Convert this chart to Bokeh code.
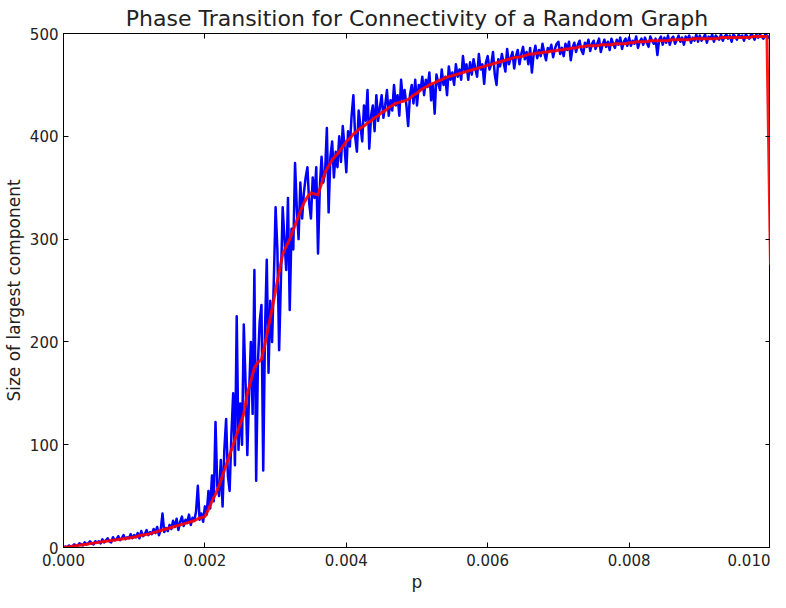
from bokeh.plotting import figure
from bokeh.models import Range1d, FixedTicker, PrintfTickFormatter, LinearAxis, CustomJSTickFormatter, Title
from bokeh.embed import file_html
from bokeh.resources import INLINE

# Blue series: one simulation per p, p on a 0.000025 grid from 0 to 0.010
blue_p = [j * 0.000025 for j in range(401)]
blue_sizes = [
    0, 1, 0, 2, 1, 1, 3, 2, 2, 4, 3, 2, 5, 3, 4, 6, 4, 3, 6, 5,
    6, 4, 8, 5, 7, 9, 6, 5, 10, 7, 8, 11, 7, 9, 12, 8, 10, 9, 13, 9,
    12, 10, 14, 9, 16, 11, 13, 17, 12, 15, 13, 18, 14, 20, 12, 17, 33, 15, 19, 16,
    22, 18, 26, 20, 28, 17, 25, 30, 21, 27, 24, 32, 22, 29, 26, 35, 60, 27, 33, 25,
    40, 32, 55, 38, 70, 45, 122, 60, 50, 85, 40, 95, 125, 70, 55, 110, 150, 80, 225, 95,
    140, 100, 217, 160, 90, 150, 200, 130, 270, 65, 180, 220, 236, 75, 210, 280, 170, 240, 200, 260,
    331, 290, 192, 260, 331, 300, 270, 340, 231, 310, 290, 374, 330, 300, 355, 320, 345, 360, 370, 335,
    320, 360, 340, 370, 286, 350, 380, 355, 365, 408, 326, 380, 395, 360, 385, 370, 400, 375, 410, 390,
    365, 405, 390, 420, 440, 400, 385, 425, 410, 395, 430, 415, 445, 388, 420, 430, 405, 440, 415, 428,
    440, 418, 430, 445, 420, 435, 425, 450, 430, 440, 420, 455, 435, 445, 430, 410, 440, 450, 432, 455,
    430, 450, 445, 458, 440, 455, 448, 462, 435, 450, 422, 460, 452, 445, 465, 450, 458, 440, 468, 455,
    462, 450, 470, 458, 465, 455, 478, 463, 470, 455, 472, 460, 475, 466, 458, 480, 465, 470, 451, 472,
    478, 465, 470, 482, 460, 450, 475, 468, 480, 472, 463, 485, 470, 476, 482, 466, 478, 484, 470, 480,
    487, 475, 482, 470, 486, 462, 480, 488, 476, 484, 478, 490, 481, 474, 486, 483, 489, 477, 485, 490,
    492, 480, 486, 478, 490, 484, 492, 474, 486, 491, 482, 489, 493, 484, 480, 491, 487, 494, 483, 490,
    493, 485, 490, 495, 482, 489, 494, 487, 492, 484, 495, 490, 486, 494, 489, 496, 485, 492, 495, 488,
    496, 488, 493, 490, 497, 486, 492, 495, 489, 496, 491, 487, 497, 493, 490, 495, 479, 494, 497, 489,
    496, 491, 498, 489, 495, 497, 490, 494, 498, 492, 496, 489, 497, 494, 498, 491, 496, 493, 499, 492,
    498, 493, 496, 499, 491, 497, 495, 499, 492, 498, 496, 494, 499, 493, 497, 499, 495, 498, 492, 499,
    497, 494, 499, 496, 498, 493, 499, 497, 495, 499, 498, 494, 499, 496, 499, 497, 495, 499, 498, 496,
    498,
]

# Red series: smoothed (moving average) curve, p on a 0.00005 grid
red_p = [i * 0.00005 for i in range(201)]
red_sizes = [
    0, 0.5, 1, 1.5, 2, 2.5, 3, 3.5, 4, 4.5,
    5, 5.5, 6, 6.5, 7, 7.5, 8, 8.5, 9, 9.5,
    10, 11, 12, 12.5, 13, 14, 15, 16, 17, 18,
    19, 20, 21, 22, 23, 24, 25, 26, 28, 29,
    30, 37, 45, 52, 60, 70, 80, 90, 100, 110,
    120, 130, 150, 162, 175, 180, 183, 198, 215, 232,
    250, 268, 285, 293, 300, 309, 318, 327, 335, 341,
    345, 344, 343, 354, 365, 371, 377, 381, 385, 390,
    395, 398, 402, 405, 408, 410, 413, 415, 418, 420,
    423, 425, 428, 430, 432, 433, 434, 435, 437, 440,
    442, 445, 447, 449, 451, 452, 454, 455, 457, 458,
    459, 460, 461, 462, 463, 464, 465, 466, 467, 468,
    469, 470, 471, 472, 473, 474, 475, 476, 477, 477,
    478, 479, 480, 480, 481, 481, 482, 482, 483, 483,
    484, 484, 485, 485, 486, 486, 487, 487, 488, 488,
    488, 488, 489, 489, 489, 489, 490, 490, 490, 490,
    491, 491, 492, 492, 492, 492, 493, 493, 493, 493,
    493, 493, 494, 494, 494, 494, 494, 494, 495, 495,
    495, 495, 495, 495, 495, 495, 496, 496, 496, 496,
    496, 496, 496, 496, 496, 497, 497, 497, 497, 497,
    275,
]

x_ticks = [0.0, 0.002, 0.004, 0.006, 0.008, 0.010]
y_ticks = [0, 100, 200, 300, 400, 500]
x_label = "p"
y_label = "Size of largest component"
title = "Phase Transition for Connectivity of a Random Graph"

TEXT = "#222222"
FONT = "DejaVu Sans"

p = figure(
    width=770, height=592,
    output_backend="svg", toolbar_location=None,
    x_range=Range1d(x_ticks[0], x_ticks[-1]), y_range=Range1d(y_ticks[0], y_ticks[-1]),
    title=title,
    min_border_left=0, min_border_right=0, min_border_top=0, min_border_bottom=0,
)
p.background_fill_color = "white"
p.border_fill_color = "white"
p.outline_line_color = "black"
p.outline_line_width = 1
p.xgrid.visible = False
p.ygrid.visible = False

p.title.align = "center"
p.title.text_font = FONT
p.title.text_font_size = "22px"
p.title.text_font_style = "normal"
p.title.text_color = TEXT
p.title.standoff = 6

p.line(blue_p, blue_sizes, line_color="#0000ff", line_width=2.5, line_join="round")
p.line(red_p, red_sizes, line_color="#ff0000", line_width=3, line_join="round", line_alpha=0.9)

def style_axis(ax, ticks, fmt, show_labels=True):
    ax.ticker = FixedTicker(ticks=ticks)
    ax.major_tick_in = 5
    ax.major_tick_out = 0
    ax.minor_tick_line_color = None
    ax.axis_line_color = "black"
    ax.major_tick_line_color = "black"
    if show_labels:
        ax.formatter = PrintfTickFormatter(format=fmt)
        ax.major_label_text_font = FONT
        ax.major_label_text_font_size = "15px"
        ax.major_label_text_color = TEXT
        ax.major_label_text_line_height = 1.0
        ax.axis_label_text_line_height = 1.0
    else:
        ax.formatter = CustomJSTickFormatter(code="return ''")
        ax.major_label_text_font_size = "0px"
        ax.major_label_text_line_height = 0
        ax.major_label_standoff = 0
        ax.axis_label_standoff = 0

xa = p.xaxis[0]
style_axis(xa, x_ticks, "%.3f")
xa.major_label_standoff = 6

ya = p.yaxis[0]
style_axis(ya, y_ticks, "%d")
ya.axis_label = y_label
ya.axis_label_text_font = FONT
ya.axis_label_text_font_size = "17px"
ya.axis_label_text_font_style = "normal"
ya.axis_label_text_color = TEXT
ya.major_label_standoff = 5
ya.axis_label_standoff = 3

top = LinearAxis()
style_axis(top, x_ticks, None, show_labels=False)
p.add_layout(top, "above")
right = LinearAxis()
style_axis(right, y_ticks, None, show_labels=False)
p.add_layout(right, "right")

# x-axis label as a compact panel below the tick labels
p.add_layout(Title(
    text=x_label, align="center", standoff=2,
    text_font=FONT, text_font_size="17px", text_font_style="normal", text_color=TEXT,
), "below")

open("out.html", "w").write(file_html(p, INLINE))
